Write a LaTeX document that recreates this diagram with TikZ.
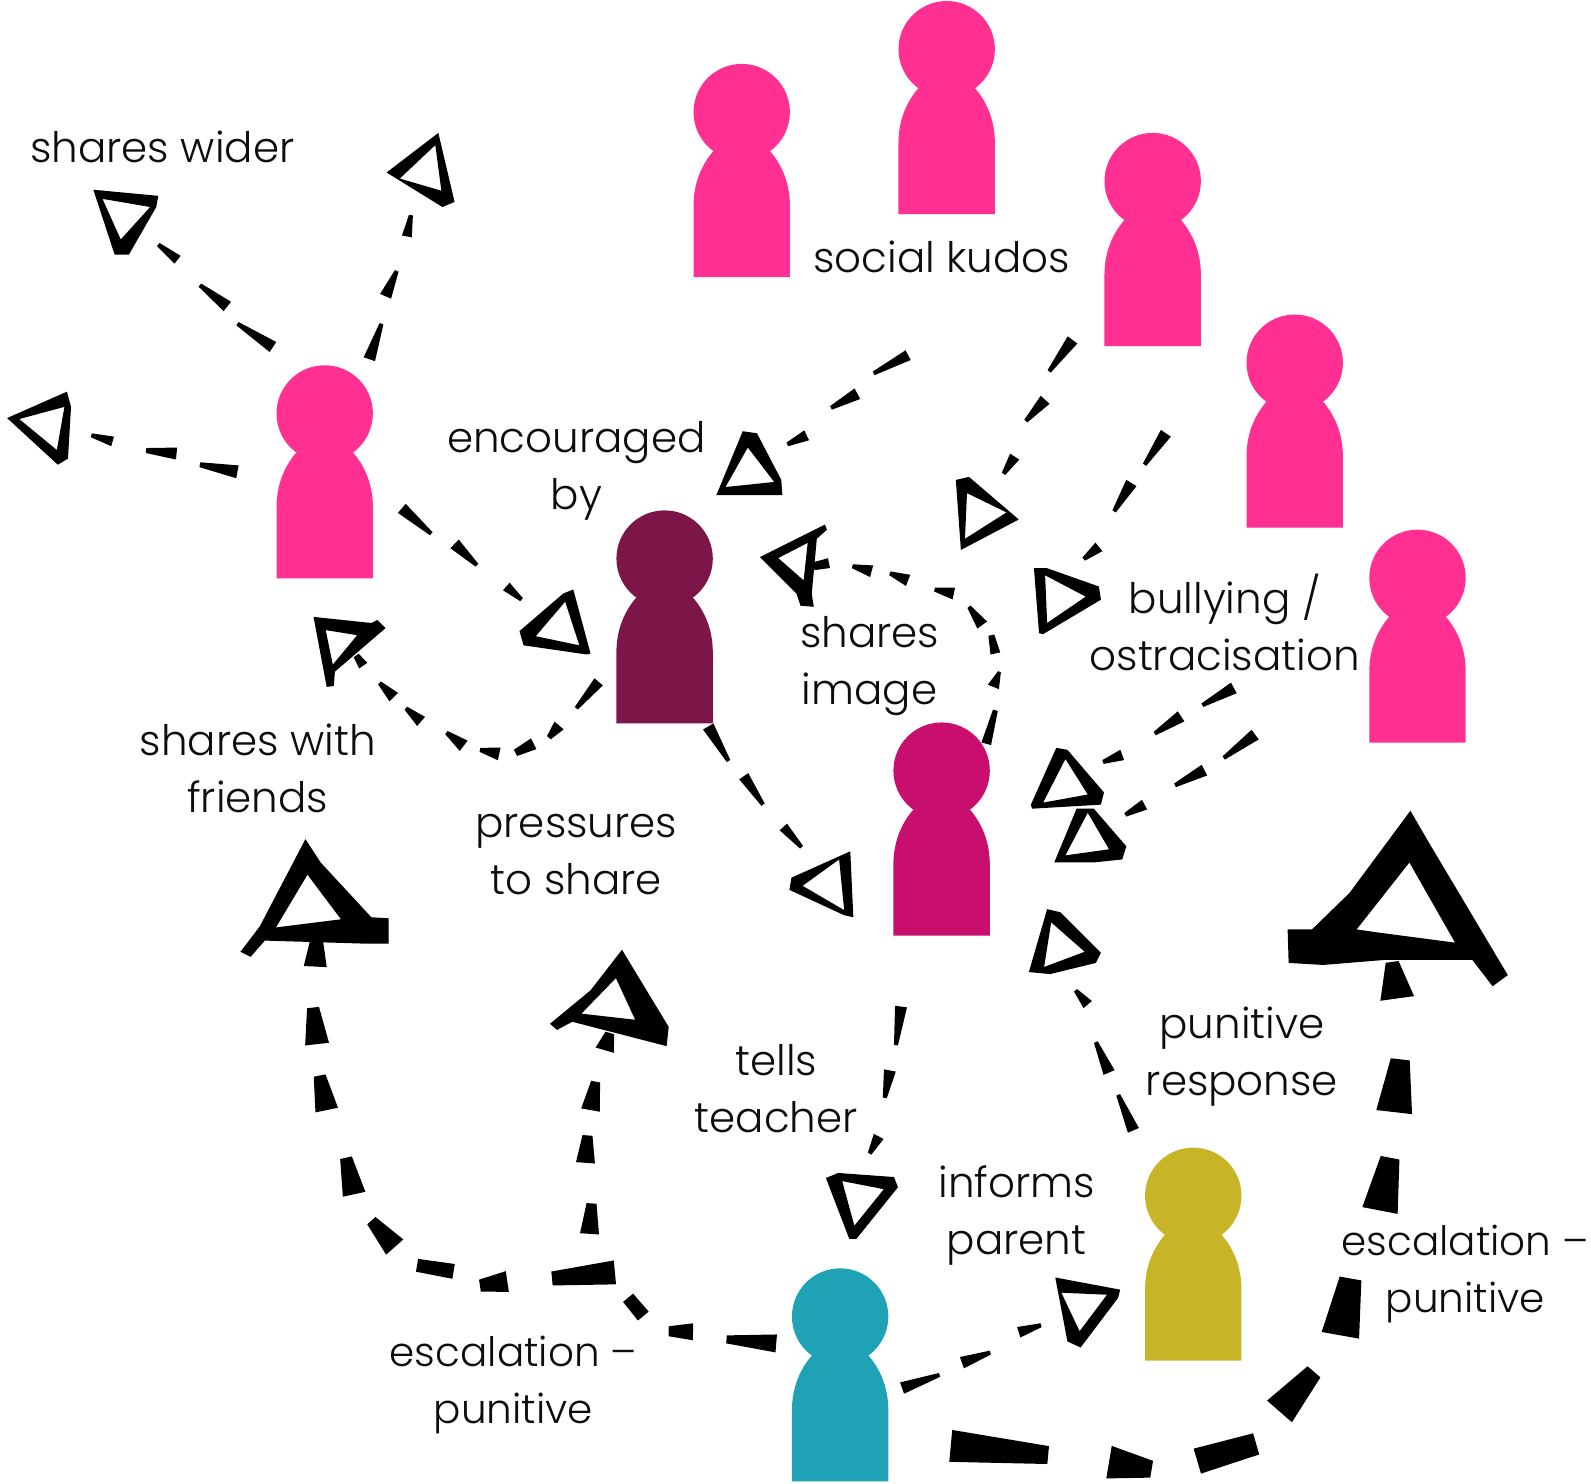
\documentclass[tikz,border=0pt]{standalone}
\usepackage{fontspec}
\setmainfont{Poppins Light}
\usetikzlibrary{calc}
\tikzset{
  conn/.style={fill=black},
  head/.style={fill=black,even odd rule},
  label/.style={font=\fontsize{42}{57}\selectfont,align=center,inner sep=0pt,text=black!95},
  widelabel/.style={label,font=\fontsize{40.5}{57}\selectfont},
  personbox/.style={inner sep=0pt,minimum width=96pt,minimum height=213pt}
}
% one tapered stroke of a dashed connector: from, to, width at start, width at end
\newcommand\tdash[4]{%
  \fill[conn] ($(#1)!#3*0.5pt!90:(#2)$) -- ($(#2)!#4*0.5pt!-90:(#1)$) -- ($(#2)!#4*0.5pt!90:(#1)$) -- ($(#1)!#3*0.5pt!-90:(#2)$) -- cycle;
}
\newcommand\person[4]{%
  \fill[#4] (#2-47.5,#3+210) -- (#2-47.5,#3+140) .. controls (#2-47.5,#3+118) and (#2-40,#3+100) .. (#2-28,#3+86)
     -- (#2+28,#3+86) .. controls (#2+40,#3+100) and (#2+47.5,#3+118) .. (#2+47.5,#3+140) -- (#2+47.5,#3+210) -- cycle;
  \fill[#4] (#2,#3+47.5) circle[radius=47.5];
  \node[personbox] (#1) at (#2,#3+105) {};
}
\definecolor{ppink}{HTML}{FF3092}
\definecolor{pdark}{HTML}{7D1648}
\definecolor{pmag}{HTML}{C90F6E}
\definecolor{pteal}{HTML}{1FA2B5}
\definecolor{polive}{HTML}{C8B527}
\begin{document}
\begin{tikzpicture}[x=1.0147pt,y=-1.0147pt]
\useasboundingbox (0,0) rectangle (1568,1462);
\fill[white] (0,0) rectangle (1568,1462);
% people
\person{pa}{731}{63}{ppink}
\person{pb}{933}{1}{ppink}
\person{pc}{1136}{131}{ppink}
\person{pd}{1276}{310}{ppink}
\person{pe}{1397}{522}{ppink}
\person{pf}{320}{360}{ppink}
\person{dark}{655}{503}{pdark}
\person{mag}{928}{712}{pmag}
\person{teal}{828}{1250}{pteal}
\person{olive}{1176}{1131}{polive}
% labels
\node[label] (lwider) at (160,145) {shares wider};
\node[label] (lkudos) at (928,253) {social kudos};
\node[label] (lenc) at (568,464) {encouraged\\by};
\node[label] (limg) at (857,656) {shares\\image};
\node[label] (lbul) at (1207,613) {bullying /\\ostracisation};
\node[label] (lfri) at (254,757) {shares with\\friends};
\node[label] (lpre) at (568,842) {pressures\\to share};
\node[label] (ltea) at (765,1073) {tells\\teacher};
\node[label] (lpun) at (1224,1041) {punitive\\response};
\node[label] (linf) at (1002,1198) {informs\\parent};
\node[widelabel] (lescr) at (1444,1256) {escalation --\\punitive};
\node[widelabel] (lescl) at (506,1365) {escalation --\\punitive};
% arrowheads
\fill[head] (92,187) -- (156,193) -- (154,204) -- (127,251) -- (113,251) -- cycle (101,196) -- (148,204) -- (119,236) -- cycle;
\coordinate (a1) at (156,241);
\fill[head] (432,131) -- (448,199) -- (436,204) -- (381,170) -- cycle (429,143) -- (435,188) -- (394,176) -- cycle;
\coordinate (a2) at (405,212);
\fill[head] (66,386) -- (70,401) -- (67,452) -- (57,458) -- (7,412) -- cycle (63.5,401) -- (56,443.5) -- (19,413) -- cycle;
\coordinate (a3) at (90,429);
\fill[head] (732,425) -- (746,427) -- (770,473) -- (771,488) -- (706,488) -- cycle (737,441) -- (763,475) -- (715,480) -- cycle;
\coordinate (a4) at (776,438);
\fill[head] (955,470) -- (1004,512) -- (947,542) -- (942,473) -- cycle (953,486) -- (992,505) -- (951,531) -- cycle;
\coordinate (a5) at (989,467);
\fill[head] (1019,560) -- (1032,560) -- (1083,578) -- (1085,591) -- (1028,625) -- (1024,624) -- cycle (1030,567) -- (1070,588) -- (1032,614) -- cycle;
\coordinate (a6) at (1068,551);
\fill[head] (749,549) -- (813,517) -- (815,522) -- (805,531) -- (800,585) -- (802,598) -- (789,597) -- (785,585) -- cycle (796,535) -- (792,572) -- (767,550) -- cycle;
\coordinate (a7) at (802,558);
\fill[head] (1041,737) -- (1052,739) -- (1088,781) -- (1085,793) -- (1017,797) -- (1016,793) -- cycle (1050,748) -- (1072,783) -- (1028,791) -- cycle;
\coordinate (a8) at (1087,751);
\fill[head] (1061,797) -- (1078,797) -- (1110,834) -- (1106,847) -- (1078,850) -- (1039,850) -- cycle (1072,801) -- (1093,837) -- (1050,843) -- cycle;
\coordinate (a9) at (1109,803);
\fill[head] (1390,799) -- (1408,830) -- (1486,961) -- (1471,972) -- (1451,946) -- (1365,946) -- (1304,951) -- (1270,949) -- (1269,916) -- (1293,916) -- (1330,880) -- cycle (1389,850) -- (1434,929) -- (1358,919) -- (1337,916) -- cycle;
\coordinate (a10) at (1372,948);
\fill[head] (1032,896) -- (1045,899) -- (1085,939) -- (1080,949) -- (1035,960) -- (1014,958) -- cycle (1036,909) -- (1069,938) -- (1029,953) -- cycle;
\coordinate (a11) at (1060,976);
\fill[head] (1040,1259) -- (1104,1271) -- (1102,1279) -- (1065,1328) -- (1052,1322) -- cycle (1046,1274) -- (1091,1276) -- (1064,1312) -- cycle;
\coordinate (a12) at (1026,1306);
\fill[head] (301,827) -- (316,850) -- (366,904) -- (383,905) -- (383,930) -- (360,930) -- (261,927) -- (247,943) -- (237,938) -- (256,913) -- cycle (303,862) -- (336,906) -- (272,914) -- cycle;
\coordinate (a13) at (312,927);
\fill[head] (613,936) -- (659,1012) -- (657,1031) -- (564,1007) -- (549,1015) -- (542,1009) -- (582,976) -- cycle (607,964) -- (626,1005) -- (573,999) -- cycle;
\coordinate (a14) at (601,1018);
\fill[head] (838,839) -- (841,904) -- (832,902) -- (778,877) -- (780,865) -- cycle (827,847) -- (832,897) -- (791,873) -- cycle;
\coordinate (a15) at (790,835);
\fill[head] (814,1161) -- (826,1156) -- (881,1160) -- (885,1170) -- (844,1221) -- (837,1221) -- cycle (830,1164) -- (871,1172) -- (842,1208) -- cycle;
\coordinate (a16) at (857,1137);
\fill[head] (565,581) -- (582,644) -- (578,645) -- (516,636) -- (512,622) -- (555,585) -- cycle (557,593) -- (571,636) -- (528,627) -- cycle;
\coordinate (a17) at (514,591);
\fill[head] (309,608) -- (366,614) -- (372,611) -- (380,619) -- (330,662) -- (329,676) -- (322,677) -- cycle (321,621) -- (352,626) -- (328,655) -- cycle;
\coordinate (a18) at (351,646);
% connector ports
\coordinate (fa) at (269,342);
\coordinate (fb) at (364,354);
\coordinate (fc) at (234,465);
\coordinate (fd) at (396,501);
\coordinate (da) at (590,672);
\coordinate (db) at (698,716);
\coordinate (ma) at (972,733);
\coordinate (ka) at (895,350);
\coordinate (ca) at (1057,335);
\coordinate (cb) at (1149,427);
\coordinate (ea) at (1216,678);
\coordinate (eb) at (1237,724);
\coordinate (oa) at (1117,1114);
\coordinate (ta) at (889,1368);
\coordinate (mb) at (888,992);
\coordinate (tb) at (937,1425);
\coordinate (tc) at (765,1324);
\coordinate (jn) at (606,1254);
% connectors
\tdash{fa}{234,319}{12}{4}\tdash{224,302}{197,281}{12}{4}\tdash{175,256}{a1}{10}{4}
\tdash{fb}{376,319}{12}{4}\tdash{380,292}{391,267}{12}{4}\tdash{401,233}{a2}{10}{4}
\tdash{fc}{197,458}{13}{5}\tdash{174,447}{144,444}{12}{5}\tdash{111,435}{a3}{10}{4}
\tdash{fd}{425,526}{12}{4}\tdash{448,536}{470,557}{12}{4}\tdash{499,578}{a17}{10}{4}
\tdash{da}{568,698}{11}{4}\tdash{551,715}{541,727}{12}{5}\tdash{526,733}{508,742}{12}{7}\tdash{492,743}{473,739}{13}{4}\tdash{457,735}{440,722}{13}{4}\tdash{415,711}{400,698}{12}{4}\tdash{388,687}{374,673}{12}{4}\tdash{358,656}{a18}{10}{6}
\tdash{db}{718,750}{12}{4}\tdash{733,765}{752,793}{11}{4}\tdash{772,815}{a15}{10}{4}
\tdash{ma}{981,700}{10}{5}\tdash{979,677}{985,662}{12}{3}\tdash{981,644}{977,626}{10}{6}\tdash{968,616}{955,598}{12}{4}\tdash{940,585}{921,581}{12}{4}\tdash{895,572}{877,565}{12}{4}\tdash{859,563}{840,558}{12}{4}\tdash{817,555}{a7}{10}{8}
\tdash{ka}{861,368}{11}{4}\tdash{845,388}{819,402}{12}{4}\tdash{795,429}{a4}{11}{4}
\tdash{ca}{1034,366}{12}{4}\tdash{1030,394}{1011,415}{12}{4}\tdash{1000,450}{a5}{11}{4}
\tdash{cb}{1128,458}{12}{4}\tdash{1115,476}{1098,504}{12}{4}\tdash{1083,539}{a6}{11}{4}
\tdash{ea}{1185,695}{12}{4}\tdash{1164,706}{1138,723}{12}{4}\tdash{1106,744}{a8}{11}{4}
\tdash{eb}{1206,747}{12}{4}\tdash{1187,759}{1158,774}{12}{4}\tdash{1128,793}{a9}{11}{4}
\tdash{oa}{1102,1079}{12}{4}\tdash{1093,1057}{1080,1027}{12}{4}\tdash{1072,990}{a11}{11}{4}
\tdash{ta}{926,1355}{12}{4}\tdash{948,1343}{976,1333}{12}{4}\tdash{1004,1313}{a12}{11}{4}
\tdash{mb}{883,1030}{12}{4}\tdash{877,1055}{872,1082}{12}{4}\tdash{866,1120}{a16}{11}{4}
\tdash{tb}{1033,1434}{32}{18}\tdash{1093,1441}{1135,1448}{33}{17}\tdash{1180,1440}{1238,1423}{26}{22}\tdash{1261,1391}{1295,1352}{33}{17}\tdash{1321,1316}{1331,1260}{38}{22}\tdash{1360,1193}{1370,1141}{36}{19}\tdash{1374,1096}{1380,1044}{36}{19}\tdash{1377,984}{a10}{34}{13}
\tdash{tc}{716,1320}{18}{8}\tdash{683,1312.5}{659,1312}{17}{10}\tdash{634,1297}{619,1279}{14}{13}\tdash{581,1216}{583,1186}{19}{10}\tdash{577,1146}{579,1119}{19}{10}\tdash{582,1094}{587,1066}{19}{9}\tdash{596,1035}{a14}{19}{9}
\tdash{jn}{544,1260}{24}{14}\tdash{500,1263}{473,1267}{21}{12}\tdash{447,1253}{411,1247}{15}{13}\tdash{389,1229}{366,1203}{23}{11}\tdash{349,1177}{341,1141}{23}{12}\tdash{322,1094}{315,1060}{23}{12}\tdash{312.5,1029}{308.5,993}{24}{12}\tdash{310.7,952.6}{a13}{23}{13}
\end{tikzpicture}
\end{document}
